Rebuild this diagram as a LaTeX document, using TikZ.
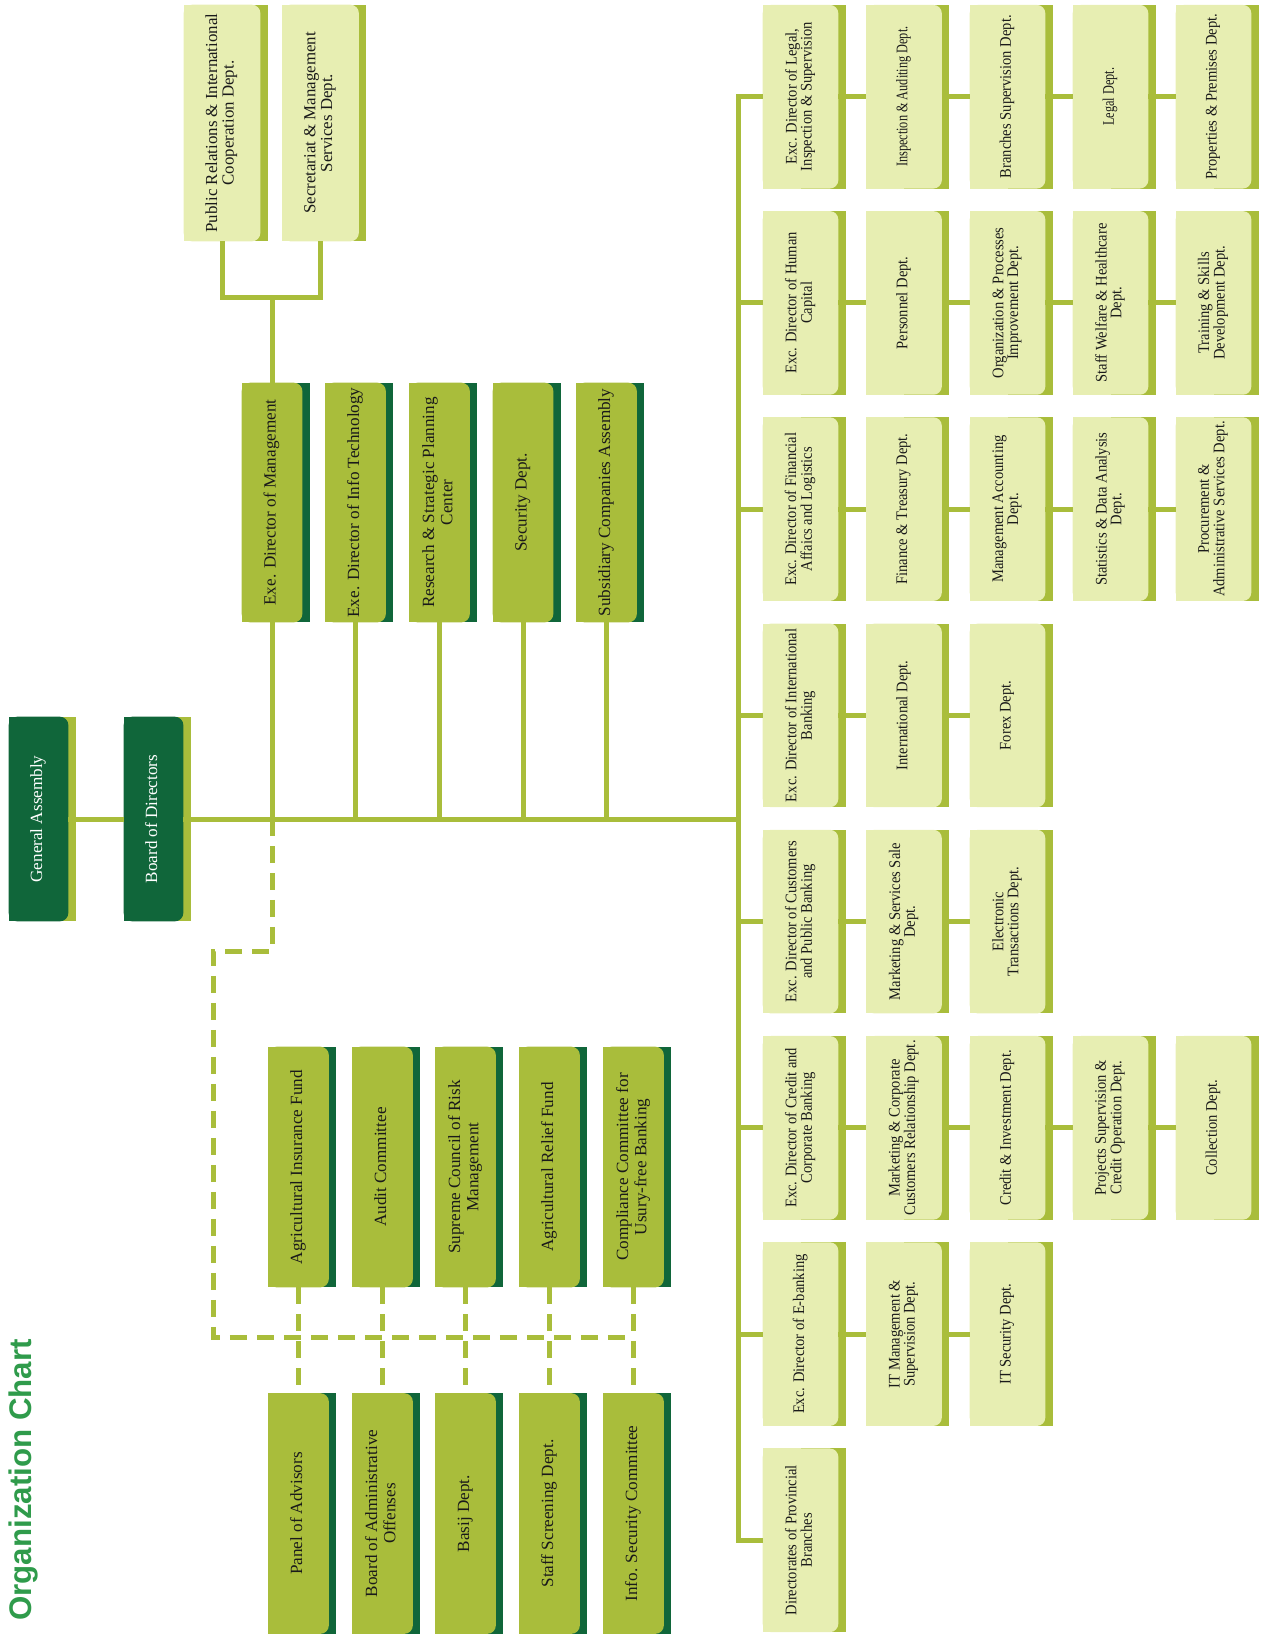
\documentclass[tikz,border=0pt]{standalone}
\usepackage{fontspec}
\usepackage{graphicx}
\usepackage{tikz}
\usetikzlibrary{backgrounds,calc}
\setmainfont{Liberation Serif}
\newfontfamily\narrowserif[FakeStretch=0.9]{Liberation Serif}
\newfontfamily\tightserif[FakeStretch=0.76]{Liberation Serif}
\newfontfamily\titlesans{Liberation Sans}
\definecolor{darkgreen}{HTML}{10663A}
\definecolor{olive}{HTML}{A9BD3B}
\definecolor{pale}{HTML}{E7EEB2}
\definecolor{titlegreen}{HTML}{2F9B4B}
\definecolor{ink}{HTML}{1A1A1A}
\newcommand{\rotlbl}[1]{\rotatebox{90}{\begin{tabular}{@{}c@{}}#1\end{tabular}}}
\tikzset{
  orgshape/.style 2 args={inner sep=0pt,
    append after command={\pgfextra{\begin{pgfinterruptpath}\begin{pgfonlayer}{background}
      \fill[#2] ([xshift=0.15cm]\tikzlastnode.south west) rectangle ([xshift=0.15cm]\tikzlastnode.north east);
      \fill[#1,rounded corners=0.17cm] (\tikzlastnode.south west) rectangle (\tikzlastnode.north east);
      \fill[#1] (\tikzlastnode.south west) rectangle (\tikzlastnode.north);
    \end{pgfonlayer}\end{pgfinterruptpath}}}},
  darkbox/.style={orgshape={darkgreen}{olive},minimum width=1.18cm,minimum height=4.08cm,
                  text=white,font=\fontsize{9.75}{10.4}\selectfont},
  midbox/.style={orgshape={olive}{darkgreen},minimum width=1.2cm,minimum height=4.8cm,
                 text=ink,font=\fontsize{9.75}{10.4}\selectfont},
  palebox/.style={orgshape={pale}{olive},minimum width=1.52cm,minimum height=4.72cm,
                  text=ink,font=\fontsize{9.6}{9.5}\selectfont},
  gridbox/.style={orgshape={pale}{olive},minimum width=1.5cm,minimum height=3.66cm,
                  text=ink,font=\narrowserif\fontsize{9.2}{8.2}\selectfont},
  tightbox/.style={gridbox,font=\tightserif\fontsize{9.2}{8.2}\selectfont},
  link/.style={draw=olive,line width=0.1cm},
  dlink/.style={link,dash pattern=on 0.34cm off 0.2cm},
  charttitle/.style={rotate=90,text=titlegreen,inner sep=0pt,
                     font=\titlesans\bfseries\fontsize{17.8}{20}\selectfont}
}

\begin{document}
\begin{tikzpicture}[x=0.02cm,y=-0.02cm]
    \path[use as bounding box] (0,0) rectangle (1264,1634);

    \node[charttitle] (ttl) at (23.5,1480) {Organization Chart};

    \node[darkbox] (ga)  at (38.5,819)  {\rotlbl{General Assembly}};
    \node[darkbox] (bod) at (153.5,819) {\rotlbl{Board of Directors}};
    \coordinate (trunk) at (738,819);

    % above the trunk
    \node[palebox] (pr)   at (222,123)   {\rotlbl{Public Relations \& International\\Cooperation Dept.}};
    \node[palebox] (secr) at (320.5,123) {\rotlbl{Secretariat \& Management\\Services Dept.}};
    \node[midbox,minimum height=4.78cm] (mgmt)     at (272,502.5)   {\rotlbl{Exe. Director of Management}};
    \node[midbox,minimum height=4.78cm] (itech)    at (355.5,502.5) {\rotlbl{Exe. Director of Info Technology}};
    \node[midbox,minimum height=4.78cm] (research) at (439.5,502.5) {\rotlbl{Research \& Strategic Planning\\Center}};
    \node[midbox,minimum height=4.78cm] (secu)     at (523,502.5)   {\rotlbl{Security Dept.}};
    \node[midbox,minimum height=4.78cm] (subs)     at (606.5,502.5) {\rotlbl{Subsidiary Companies Assembly}};

    % below the trunk
    \node[midbox] (agins)  at (298.5,1167) {\rotlbl{Agricultural Insurance Fund}};
    \node[midbox] (audit)  at (382.5,1167) {\rotlbl{Audit Committee}};
    \node[midbox] (risk)   at (465.5,1167) {\rotlbl{Supreme Council of Risk\\Management}};
    \node[midbox] (relief) at (549.5,1167) {\rotlbl{Agricultural Relief Fund}};
    \node[midbox] (cmpl)   at (633.5,1167) {\rotlbl{Compliance Committee for\\Usury-free Banking}};
    \node[midbox] (panel)   at (298.5,1513.5) {\rotlbl{Panel of Advisors}};
    \node[midbox] (boao)    at (382.5,1513.5) {\rotlbl{Board of Administrative\\Offenses}};
    \node[midbox] (basij)   at (465.5,1513.5) {\rotlbl{Basij Dept.}};
    \node[midbox] (screen)  at (549.5,1513.5) {\rotlbl{Staff Screening Dept.}};
    \node[midbox] (infosec) at (633.5,1513.5) {\rotlbl{Info. Security Committee}};

    % executive directors and their departments
    \node[gridbox]  (exlegal)   at (800.5,96.7)  {\rotlbl{Exc. Director of Legal,\\Inspection \& Supervision}};
    \node[tightbox] (inspect)   at (904,96.7)    {\rotlbl{Inspection \& Auditing Dept.}};
    \node[gridbox]  (branchsup) at (1007.5,96.7) {\rotlbl{Branches Supervision Dept.}};
    \node[tightbox] (legaldept) at (1110.5,96.7) {\rotlbl{Legal Dept.}};
    \node[gridbox]  (property)  at (1213.5,96.7) {\rotlbl{Properties \& Premises Dept.}};

    \node[gridbox] (exhuman)   at (800.5,302.9)  {\rotlbl{Exc. Director of Human\\Capital}};
    \node[gridbox] (personnel) at (904,302.9)    {\rotlbl{Personnel Dept.}};
    \node[gridbox] (orgproc)   at (1007.5,302.9) {\rotlbl{Organization \& Processes\\Improvement Dept.}};
    \node[gridbox] (welfare)   at (1110.5,302.9) {\rotlbl{Staff Welfare \& Healthcare\\Dept.}};
    \node[gridbox] (training)  at (1213.5,302.9) {\rotlbl{Training \& Skills\\Development Dept.}};

    \node[gridbox] (exfin)    at (800.5,509.1)  {\rotlbl{Exc. Director of Financial\\Affaics and Logistics}};
    \node[gridbox] (treasury) at (904,509.1)    {\rotlbl{Finance \& Treasury Dept.}};
    \node[gridbox] (mgmtacc)  at (1007.5,509.1) {\rotlbl{Management Accounting\\Dept.}};
    \node[gridbox] (stats)    at (1110.5,509.1) {\rotlbl{Statistics \& Data Analysis\\Dept.}};
    \node[gridbox] (procure)  at (1213.5,509.1) {\rotlbl{Procurement \&\\Administrative Services Dept.}};

    \node[gridbox] (exintl) at (800.5,715.4)  {\rotlbl{Exc. Director of International\\Banking}};
    \node[gridbox] (intl)   at (904,715.4)    {\rotlbl{International Dept.}};
    \node[gridbox] (forex)  at (1007.5,715.4) {\rotlbl{Forex Dept.}};

    \node[gridbox] (excust)  at (800.5,921.6)  {\rotlbl{Exc. Director of Customers\\and Public Banking}};
    \node[gridbox] (mktserv) at (904,921.6)    {\rotlbl{Marketing \& Services Sale\\Dept.}};
    \node[gridbox] (etrans)  at (1007.5,921.6) {\rotlbl{Electronic\\Transactions Dept.}};

    \node[gridbox] (excredit)  at (800.5,1127.8)  {\rotlbl{Exc. Director of Credit and\\Corporate Banking}};
    \node[gridbox] (mktcorp)   at (904,1127.8)    {\rotlbl{Marketing \& Corporate\\Customers Relationship Dept.}};
    \node[gridbox] (creditinv) at (1007.5,1127.8) {\rotlbl{Credit \& Investment Dept.}};
    \node[gridbox] (projsup)   at (1110.5,1127.8) {\rotlbl{Projects Supervision \&\\Credit Operation Dept.}};
    \node[gridbox] (collect)   at (1213.5,1127.8) {\rotlbl{Collection Dept.}};

    \node[gridbox] (exebank) at (800.5,1334.1)  {\rotlbl{Exc. Director of E-banking}};
    \node[gridbox] (itmgmt)  at (904,1334.1)    {\rotlbl{IT Management \&\\Supervision Dept.}};
    \node[gridbox] (itsec)   at (1007.5,1334.1) {\rotlbl{IT Security Dept.}};

    \node[gridbox] (provinces) at (800.5,1540.3) {\rotlbl{Directorates of Provincial\\Branches}};

    % solid lines
    \draw[link] (ga) -- (bod);
    \draw[link] (bod) -- (trunk);
    \draw[link] (pr.south) -- ++(0,56) -| (secr.south);
    \draw[link] (mgmt.north) -- ++(0,-86);
    \foreach \n in {mgmt,itech,research,secu,subs}
      \draw[link] (\n.south) -- (\n.south |- trunk);
    \draw[link] (exlegal.west) -| (trunk);
    \draw[link] (provinces.west) -| (trunk);
    \foreach \n in {exhuman,exfin,exintl,excust,excredit,exebank}
      \draw[link] (\n.west) -- (\n.west -| trunk);
    \draw[link] (exlegal) -- (inspect) -- (branchsup) -- (legaldept) -- (property);
    \draw[link] (exhuman) -- (personnel) -- (orgproc) -- (welfare) -- (training);
    \draw[link] (exfin) -- (treasury) -- (mgmtacc) -- (stats) -- (procure);
    \draw[link] (exintl) -- (intl) -- (forex);
    \draw[link] (excust) -- (mktserv) -- (etrans);
    \draw[link] (excredit) -- (mktcorp) -- (creditinv) -- (projsup) -- (collect);
    \draw[link] (exebank) -- (itmgmt) -- (itsec);

    % dashed lines
    \coordinate (dashbus) at (0,1337);
    \draw[dlink] (mgmt.south |- trunk) -- ++(0,132) -- ++(-59,0) |- (dashbus -| cmpl.south);
    \foreach \a/\b in {agins/panel,audit/boao,risk/basij,relief/screen,cmpl/infosec}
      \draw[dlink] (\a) -- (\b);
\end{tikzpicture}
\end{document}
